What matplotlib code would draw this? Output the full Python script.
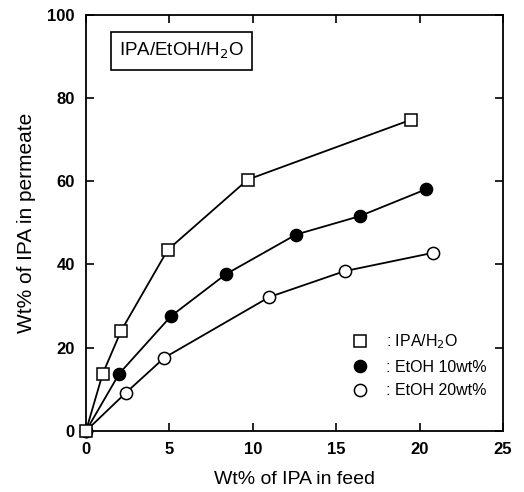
import matplotlib
matplotlib.use("Agg")
import matplotlib.pyplot as plt

plt.rcParams["font.family"] = ["Liberation Sans", "DejaVu Sans"]

# IPA/H2O binary feed
feed_bin = [0, 1.0, 2.1, 4.9, 9.7, 19.5]
perm_bin = [0, 13.7, 24.0, 43.5, 60.4, 74.8]

# EtOH 10 wt% in feed
feed_e10 = [0, 2.0, 5.1, 8.4, 12.6, 16.4, 20.4]
perm_e10 = [0, 13.8, 27.6, 37.7, 47.2, 51.6, 58.1]

# EtOH 20 wt% in feed
feed_e20 = [0, 2.4, 4.7, 11.0, 15.5, 20.8]
perm_e20 = [0, 9.2, 17.6, 32.2, 38.4, 42.8]

fig = plt.figure(figsize=(5.24, 4.92), dpi=100)
ax = fig.add_axes([0.164, 0.124, 0.796, 0.846])

ax.plot(feed_e20, perm_e20, "-o", color="black", mfc="white", mec="black",
        ms=8.8, lw=1.3, mew=1.1, label=": EtOH 20wt%", zorder=3, clip_on=False)
ax.plot(feed_e10, perm_e10, "-o", color="black", mfc="black",
        ms=8.8, lw=1.3, label=": EtOH 10wt%", zorder=3, clip_on=False)
ax.plot(feed_bin, perm_bin, "-s", color="black", mfc="white", mec="black",
        ms=8.2, lw=1.3, mew=1.1, label=": IPA/H$_2$O", zorder=4, clip_on=False)

ax.set_xlim(0, 25)
ax.set_ylim(0, 100)
ax.set_xticks([0, 5, 10, 15, 20, 25])
ax.set_yticks([0, 20, 40, 60, 80, 100])
ax.tick_params(direction="in", top=True, right=True, length=6, width=1.2,
               labelsize=12, pad=8)
for lab in ax.get_xticklabels() + ax.get_yticklabels():
    lab.set_fontweight("bold")
for sp in ax.spines.values():
    sp.set_linewidth(1.3)

ax.set_xlabel("Wt% of IPA in feed", fontsize=14, labelpad=10)
ax.set_ylabel("Wt% of IPA in permeate", fontsize=15, labelpad=8)

ax.text(2.0, 91.3, "IPA/EtOH/H$_2$O", fontsize=13.5, va="center", ha="left",
        bbox=dict(boxstyle="square,pad=0.45", fc="white", ec="black", lw=1.2))

handles, labels = ax.get_legend_handles_labels()
ax.legend(handles[::-1], labels[::-1], loc="lower right",
          bbox_to_anchor=(1.0, 0.04), frameon=False, handlelength=0,
          handletextpad=1.65, labelspacing=0.55, fontsize=11.5,
          borderaxespad=0.6)

fig.savefig("out.png", dpi=100)
